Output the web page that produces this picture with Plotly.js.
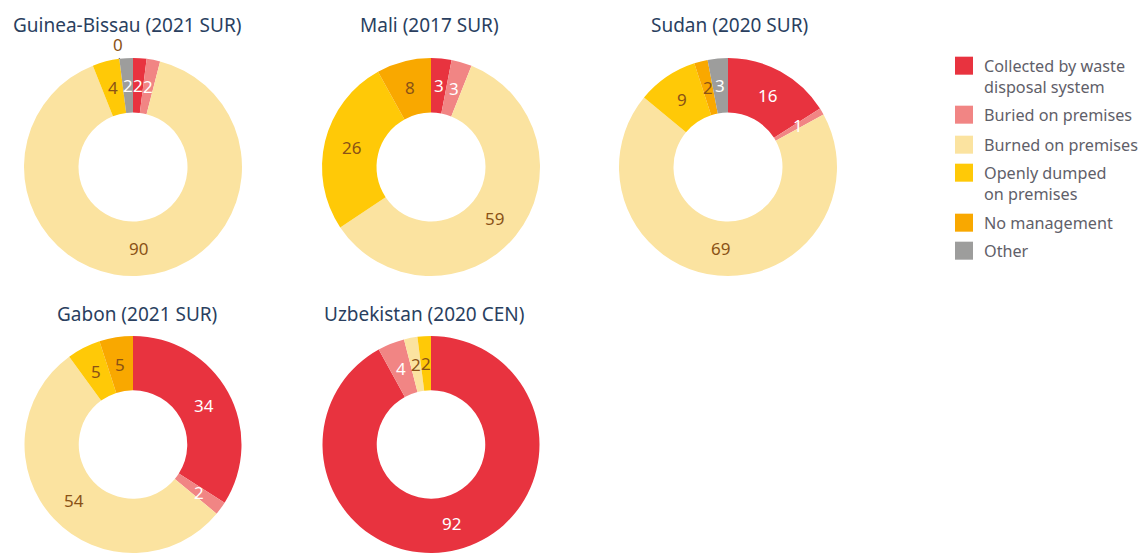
<!DOCTYPE html>
<html>
<head>
<meta charset="utf-8">
<script src="https://cdn.plot.ly/plotly-3.0.1.min.js"></script>
<style>
html,body{margin:0;padding:0;overflow:hidden;background:#fff;}
#chart{width:1139px;height:553px;}
</style>
</head>
<body>
<div id="chart"></div>
<script>
// ---- data ----
const categories = [
  "Collected by waste<br>disposal system",
  "Buried on premises",
  "Burned on premises",
  "Openly dumped<br>on premises",
  "No management",
  "Other"
];
const countryTitles = [
  "Guinea-Bissau (2021 SUR)",
  "Mali (2017 SUR)",
  "Sudan (2020 SUR)",
  "Gabon (2021 SUR)",
  "Uzbekistan (2020 CEN)"
];
const guineaBissau = [2, 2, 90, 4, 0, 2];
const mali         = [3, 3, 59, 26, 8, null];
const sudan        = [16, 1, 69, 9, 2, 3];
const gabon        = [34, 2, 54, 5, 5, null];
const uzbekistan   = [92, 4, 2, 2, null, null];
const seriesValues = [guineaBissau, mali, sudan, gabon, uzbekistan];

// ---- styles ----
const sliceColors = ["#e8333f", "#f18584", "#fbe3a0", "#ffc907", "#f9a800", "#9d9d9c"];
const labelColors = ["#ffffff", "#ffffff", "#8a5216", "#8a5216", "#8a5216", "#ffffff"];
const W = 1139, H = 553;
// pie boxes in pixels: [cx, cy, r]
const boxes = [
  [133, 167, 109],
  [431, 167, 109],
  [728, 167, 109],
  [133, 444.5, 108.5],
  [431, 444.5, 108.5]
];
const titlePos = [[127, 25], [429, 25], [729, 25], [137, 314], [424, 314]];
const FONT = "Noto Sans, sans-serif";
const HOLE = 0.5;
const LEGEND_SYMBOL_LEFT = 955;
const LEGEND_LINE_Y = [66, 115, 145, 173, 223, 251];

const traces = seriesValues.map((vals, k) => {
  const [cx, cy, r] = boxes[k];
  return {
    type: "pie",
    labels: categories,
    values: vals,
    hole: HOLE,
    sort: false,
    direction: "clockwise",
    rotation: 0,
    marker: {colors: sliceColors, line: {width: 0}},
    textinfo: "none",
    hoverinfo: "none",
    showlegend: k === 0 || k === 2,
    domain: {
      x: [(cx - r) / W, (cx + r) / W],
      y: [Math.max(0, 1 - (cy + r) / H), 1 - (cy - r) / H]
    }
  };
});

const annotations = countryTitles.map((t, k) => ({
  text: t,
  xref: "paper", yref: "paper",
  x: titlePos[k][0] / W, y: 1 - titlePos[k][1] / H,
  xanchor: "center", yanchor: "middle",
  showarrow: false,
  font: {family: FONT, size: 19, color: "#2a3f5f"}
}));

// value labels placed at each slice's mid angle (computed from the data)
seriesValues.forEach((vals, k) => {
  const [cx, cy, r] = boxes[k];
  const total = vals.reduce((s, v) => s + (v == null ? 0 : v), 0);
  let cum = 0;
  vals.forEach((v, i) => {
    if (v == null) return;
    const mid = (cum + v / 2) / total * 2 * Math.PI;
    cum += v;
    const sx = Math.sin(mid), sy = -Math.cos(mid);
    if (v === 0) {
      annotations.push({
        text: String(v), xref: "paper", yref: "paper",
        x: (cx + r * sx) / W, y: 1 - (cy + r * sy) / H,
        showarrow: true, arrowhead: 0, arrowwidth: 1, arrowcolor: "#4a4a55",
        standoff: 0, ax: 14 * sx, ay: 14 * sy,
        font: {family: FONT, size: 17, color: labelColors[i]}
      });
    } else {
      const rt = r * (1 + HOLE) / 2;
      annotations.push({
        text: String(v), xref: "paper", yref: "paper",
        x: (cx + rt * sx) / W, y: 1 - (cy + rt * sy) / H,
        xanchor: "center", yanchor: "middle", showarrow: false,
        font: {family: FONT, size: 17, color: labelColors[i]}
      });
    }
  });
});

const layout = {
  width: W, height: H,
  margin: {l: 0, r: 0, t: 0, b: 0, autoexpand: false},
  paper_bgcolor: "#fff",
  font: {family: FONT},
  showlegend: true,
  legend: {
    x: 900 / W, xanchor: "left",
    y: 1 - 52 / H, yanchor: "top",
    valign: "top",
    font: {family: FONT, size: 16.2, color: "#5f6069"},
    traceorder: "normal"
  },
  annotations: annotations
};

Plotly.newPlot("chart", traces, layout, {displayModeBar: false, staticPlot: true}).then(() => {
  const gd = document.getElementById("chart");
  const box0 = gd.getBoundingClientRect();
  document.querySelectorAll(".legend [clip-path]").forEach(el => el.removeAttribute("clip-path"));
  document.querySelectorAll(".legend .legendpie, .legend .legendpoints path").forEach(p => {
    p.setAttribute("d", "M9,9H-9V-9H9Z");
  });
  // horizontal shift so that squares start where the reference has them
  const firstSym = document.querySelector(".legend .legendpoints path");
  const dx = firstSym ? LEGEND_SYMBOL_LEFT - (firstSym.getBoundingClientRect().left - box0.left) : 0;
  document.querySelectorAll(".legend .traces").forEach((g, i) => {
    if (i >= LEGEND_LINE_Y.length) return;
    const m = /translate\(([-\d.]+),\s*([-\d.]+)\)/.exec(g.getAttribute("transform") || "");
    if (!m) return;
    const txt = g.querySelector("text.legendtext");
    const line = txt.querySelector("tspan.line") || txt;
    const rc = line.getBoundingClientRect();
    const cur = rc.top + rc.height / 2 - box0.top;
    const nx = parseFloat(m[1]) + dx;
    const ny = parseFloat(m[2]) + (LEGEND_LINE_Y[i] - cur);
    g.setAttribute("transform", "translate(" + nx + "," + ny + ")");
  });
});
</script>
</body>
</html>
